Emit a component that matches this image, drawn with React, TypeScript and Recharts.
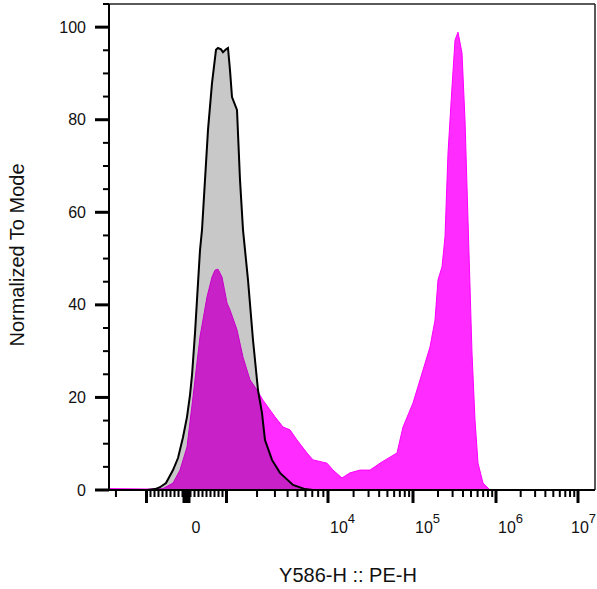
import React from 'react';
import { Area, ComposedChart, Label, ReferenceLine, XAxis, YAxis } from 'recharts';

// x = display channel on the biexponential axis (0..486), y = % of mode
const controlX = [0, 38, 46, 51, 57, 64, 69, 74, 78, 81, 83, 86, 89, 91, 93, 96, 99, 103, 107, 109, 112, 114, 117, 119, 121, 123, 128, 131, 134, 139, 144, 149, 153, 156, 163, 171, 184, 196, 204, 486];
const controlY = [0, 0, 0.2, 0.6, 1.5, 4.3, 6.9, 11.4, 15.8, 20.5, 24.8, 33.9, 44.7, 51.8, 56.2, 67, 77.8, 87.9, 95.1, 95.5, 95.2, 94.6, 95.2, 95.5, 90.7, 84.9, 82.1, 67, 56.2, 45.4, 32.4, 21.6, 16.6, 10.8, 6.5, 3.7, 1.1, 0.2, 0, 0];

const sampleX = [0, 41, 54, 64, 71, 78, 84, 91, 98, 103, 106, 109, 113, 118, 121, 128, 134, 141, 148, 154, 161, 166, 174, 181, 188, 198, 204, 218, 224, 233, 241, 251, 261, 271, 281, 288, 294, 304, 314, 321, 326, 329, 333, 336, 339, 343, 346, 349, 353, 356, 359, 363, 366, 369, 374, 381, 486];
const sampleY = [0.3, 0.2, 0.3, 1.5, 4.3, 9.3, 20.1, 33.1, 41.7, 46.0, 47.5, 47.7, 46.0, 40.4, 38.9, 34.6, 28.7, 23.8, 21.6, 19.4, 17.3, 15.8, 13.6, 13.0, 10.8, 8.0, 6.5, 5.8, 4.3, 2.6, 3.7, 4.3, 4.3, 5.8, 7.1, 8.0, 13.6, 18.8, 25.9, 30.9, 36.7, 45.4, 48.2, 54.7, 72.8, 87.1, 97.2, 98.9, 94.4, 79.9, 58.3, 29.6, 15.1, 5.8, 1.5, 0, 0];

// biexponential axis: linear around zero, log per decade above
const zeroChannel = 77.5;
const decadeValues = [1e3, 1e4, 1e5, 1e6, 1e7];
const decadeChannels = [117.5, 219, 304, 387, 469];
const labelledValues = [0, 1e4, 1e5, 1e6, 1e7];

const yMajor = [0, 20, 40, 60, 80, 100];
const yMinor = [5, 10, 15, 25, 30, 35, 45, 50, 55, 65, 70, 75, 85, 90, 95, 105];

const FONT = '"Liberation Sans", Arial, sans-serif';

function toChannel(v: number): number {
  const lin = decadeChannels[0] - zeroChannel;
  if (Math.abs(v) <= decadeValues[0]) return zeroChannel + (v / decadeValues[0]) * lin;
  if (v < 0) {
    const w = decadeChannels[1] - decadeChannels[0];
    return zeroChannel - lin - w * Math.log10(-v / decadeValues[0]);
  }
  for (let i = 0; i < decadeValues.length - 1; i++) {
    if (v <= decadeValues[i + 1]) {
      const w = decadeChannels[i + 1] - decadeChannels[i];
      return decadeChannels[i] + w * Math.log10(v / decadeValues[i]);
    }
  }
  return decadeChannels[decadeChannels.length - 1];
}

type TickInfo = { major: boolean; label: string | null; exp: string | null };
const xTickInfo = new Map<string, TickInfo>();
const xTicks: number[] = [];
function addTick(v: number, major: boolean) {
  const ch = toChannel(v);
  if (ch < 0 || ch > 486) return;
  let label: string | null = null;
  let exp: string | null = null;
  if (labelledValues.includes(v)) {
    if (v === 0) label = '0';
    else { label = '10'; exp = String(Math.round(Math.log10(v))); }
  }
  xTicks.push(ch);
  xTickInfo.set(ch.toFixed(3), { major, label, exp });
}
addTick(-2000, false);
addTick(-1000, true);
for (let k = -9; k <= 9; k++) if (k !== 0) addTick(k * 100, false);
addTick(0, true);
decadeValues.forEach((d, i) => {
  addTick(d, true);
  if (i < decadeValues.length - 1) for (let k = 2; k <= 9; k++) addTick(k * d, false);
});

const table = Array.from(new Set([...controlX, ...sampleX]))
  .sort((a, b) => a - b)
  .map((x) => {
    const ci = controlX.indexOf(x);
    const si = sampleX.indexOf(x);
    return { x, control: ci >= 0 ? controlY[ci] : null, sample: si >= 0 ? sampleY[si] : null };
  });

function XTick(props: any) {
  const { x, y, payload } = props;
  const info = xTickInfo.get(Number(payload.value).toFixed(3));
  if (!info) return <g />;
  const isZero = info.label === '0';
  const len = info.major ? 13 : 7;
  let tx = isZero ? x + 5 : x + 2;
  if (info.exp) tx = Math.min(tx, 571);
  return (
    <g>
      <line x1={x} x2={x} y1={y + 1} y2={y + len} stroke="#000" strokeWidth={isZero ? 8 : info.major ? 3 : 2} />
      {info.label && (
        <text x={tx} y={y + 43} fontSize={16} fontFamily={FONT} fill="#111" textAnchor="start">
          {info.label}
          {info.exp && <tspan dy={-10} fontSize={13}>{info.exp}</tspan>}
        </text>
      )}
    </g>
  );
}

function YTick(props: any) {
  const { x, y, payload } = props;
  const v = payload.value;
  const major = yMajor.includes(v);
  return (
    <g>
      <line x1={x - (major ? 14 : 6)} x2={x} y1={y} y2={y} stroke="#000" strokeWidth={major ? 3 : 2} />
      {major && (
        <text x={x - 23} y={y} fontSize={16} fontFamily={FONT} fill="#111" textAnchor="end" dominantBaseline="central">
          {v}
        </text>
      )}
    </g>
  );
}

export default function App() {
  return (
    <div style={{ position: 'absolute', left: 0, top: 0, width: 597, height: 589, background: '#fff' }}>
      <ComposedChart width={597} height={589} data={table} margin={{ top: 4, right: 2, left: 0, bottom: 0 }}>
        <XAxis
          dataKey="x"
          type="number"
          domain={[0, 486]}
          allowDataOverflow
          ticks={xTicks}
          interval={0}
          tick={XTick}
          tickLine={false}
          tickSize={0}
          tickMargin={0}
          height={99}
          axisLine={{ stroke: '#000', strokeWidth: 2 }}
        >
          <Label
            content={({ viewBox }: any) => (
              <text x={viewBox.x + viewBox.width / 2 - 4} y={viewBox.y + 92} fontSize={20} fontFamily={FONT} fill="#111" textAnchor="middle">
                Y586-H :: PE-H
              </text>
            )}
          />
        </XAxis>
        <YAxis
          type="number"
          domain={[0, 105]}
          allowDataOverflow
          ticks={[...yMajor, ...yMinor].sort((a, b) => a - b)}
          interval={0}
          tick={YTick}
          tickLine={false}
          tickSize={0}
          tickMargin={0}
          width={109}
          axisLine={{ stroke: '#000', strokeWidth: 2 }}
        >
          <Label
            content={() => (
              <text x={24} y={255} fontSize={20} fontFamily={FONT} fill="#111" textAnchor="middle" transform="rotate(-90 24 255)">
                Normalized To Mode
              </text>
            )}
          />
        </YAxis>
        <ReferenceLine y={105} stroke="#222" strokeWidth={1.5} />
        <ReferenceLine x={486} stroke="#222" strokeWidth={1.5} />
        {/* sample drawn first; translucent black control on top darkens the overlap like a multiply */}
        <Area
          dataKey="sample"
          type="linear"
          connectNulls
          fill="#ff2bff"
          fillOpacity={1}
          stroke="#ff00ff"
          strokeWidth={1}
          dot={false}
          activeDot={false}
          isAnimationActive={false}
        />
        <Area
          dataKey="control"
          type="linear"
          connectNulls
          fill="#000"
          fillOpacity={0.216}
          stroke="#000"
          strokeWidth={2}
          dot={false}
          activeDot={false}
          isAnimationActive={false}
        />
      </ComposedChart>
    </div>
  );
}
